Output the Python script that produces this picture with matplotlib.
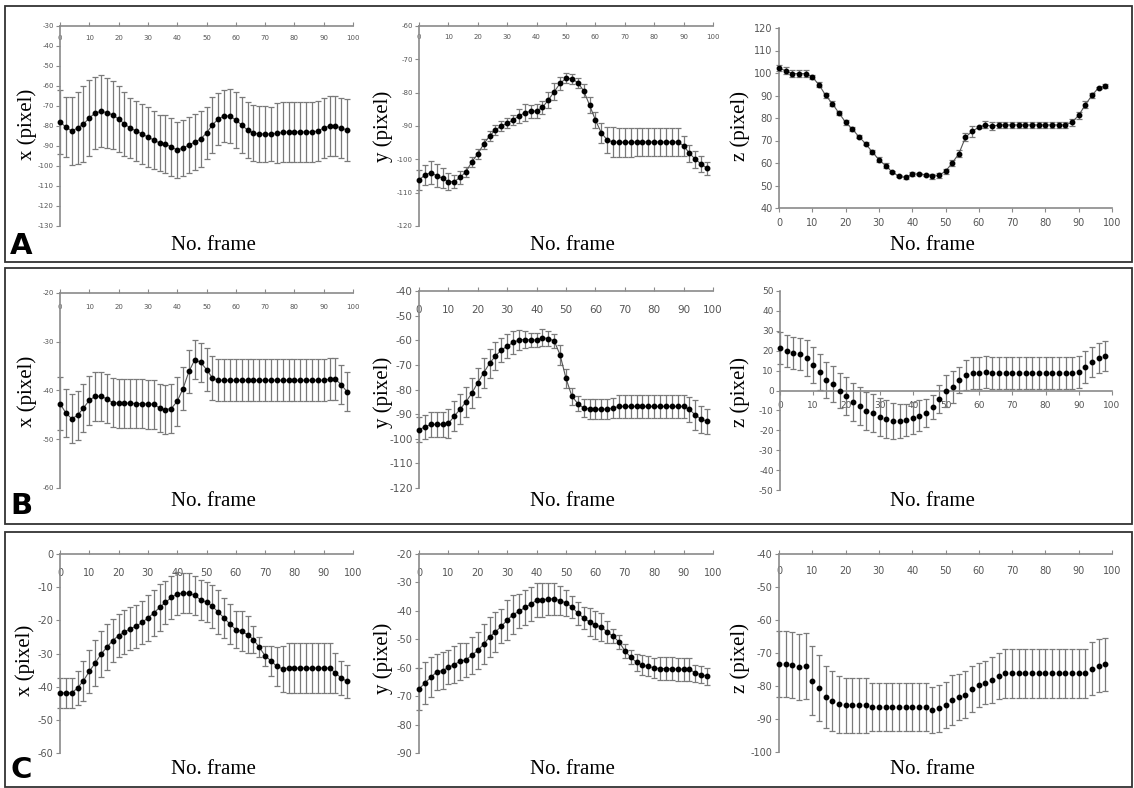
import numpy as np
import matplotlib.pyplot as plt
from matplotlib.patches import Rectangle

plt.rcParams['axes.unicode_minus'] = False

# frame numbers (every 2nd frame)
frames = list(range(0, 100, 2))

# ---- row A ----
a_x_mean = [-78, -80.5, -82.5, -81, -79, -76, -73.5, -72.7, -73.3, -74.5,
            -76.5, -79, -81, -82.5, -84, -85.5, -87, -88.5, -89, -90.5,
            -92, -91, -89.5, -88, -86.5, -83.5, -79.5, -76.5, -75, -75,
            -77, -79.5, -82, -83.5, -84, -84, -84, -83.7, -83.2, -83,
            -83, -83, -83, -83, -82.5, -81, -80, -80, -81, -82]
a_x_err = [16, 15, 17, 18, 19, 19, 18, 18, 17.5, 17,
           16.5, 16, 15, 15, 15, 15, 14.5, 14, 14.5, 14.5,
           14, 14, 14, 14, 14, 13, 14, 13, 13, 13.5,
           14, 14, 14, 14, 14, 14, 13.5, 15, 15, 15,
           15, 15, 15, 15, 15, 15, 15, 15, 15, 15.5]

a_y_mean = [-106.2, -104.7, -104, -104.9, -105.7, -106.7, -106.7, -105.4, -103.7, -100.7,
            -98.4, -95.4, -93, -91.2, -90, -89.2, -88.2, -87, -86, -85.6,
            -85.5, -84.4, -82.2, -79.7, -77.2, -75.7, -75.8, -77, -79.4, -83.7,
            -88.2, -92, -94.2, -94.8, -94.9, -94.9, -94.9, -94.8, -94.8, -94.8,
            -94.8, -94.8, -94.8, -94.8, -94.8, -95.9, -98.2, -100, -101.4, -102.7]
a_y_err = [3, 3, 3.5, 3.5, 3, 2.5, 2, 2, 1.5, 1.5,
           1.5, 1.5, 1.5, 1.5, 1.5, 1.5, 1.5, 2, 2.5, 2,
           2, 2, 2.5, 2.5, 2, 1.5, 1.5, 1.5, 2, 2.5,
           2.5, 3, 4, 4.5, 4.3, 4.3, 4.3, 4.3, 4.3, 4.3,
           4.3, 4.3, 4.3, 4.3, 4.3, 3, 2.5, 2.5, 2.5, 2]

a_z_mean = [102.2, 101, 99.7, 99.7, 99.7, 98.2, 94.8, 90.1, 86.4, 82.2,
            78.1, 75.1, 71.7, 68.6, 64.9, 61.5, 58.8, 56, 54.1, 53.6,
            55.1, 55.1, 54.8, 54.1, 54.5, 56.3, 60, 64.1, 71.4, 74.1,
            75.9, 77, 76.3, 76.9, 76.9, 76.9, 76.9, 76.9, 76.9, 76.9,
            76.9, 76.9, 76.9, 76.9, 78.1, 81.2, 85.9, 90.1, 93.5, 94.2]
a_z_err = [1.5, 1.5, 1.5, 1.5, 1.5, 1, 1, 1, 1, 1,
           1, 1, 0.8, 0.8, 1, 1.2, 1, 0.5, 0.5, 0.5,
           1, 0.5, 0.5, 1.2, 1.2, 1.2, 1.5, 1.5, 1.8, 2.5,
           0.5, 1.5, 1.8, 1.5, 1.5, 1.5, 1.5, 1.5, 1.5, 1.5,
           1.5, 1.5, 1.5, 1.5, 1.5, 1.5, 1.5, 1, 0.5, 1]

# ---- row B ----
b_x_mean = [-42.7, -44.6, -45.8, -45.1, -43.6, -42, -41.2, -41.2, -41.7, -42.5,
            -42.6, -42.6, -42.6, -42.7, -42.7, -42.8, -42.8, -43.6, -43.9, -43.7,
            -42.2, -39.6, -36.1, -33.7, -34.2, -35.7, -37.4, -37.9, -37.9, -37.9,
            -37.9, -37.9, -37.9, -37.9, -37.9, -37.9, -37.9, -37.9, -37.9, -37.9,
            -37.9, -37.9, -37.9, -37.9, -37.9, -37.9, -37.7, -37.7, -38.8, -40.3]
b_x_err = [5.5, 5, 5, 5, 5, 5, 5, 5, 5, 5,
           5, 5, 5, 5, 5, 5, 5, 5, 5, 5,
           5, 4.5, 4.5, 4, 4, 4.5, 4.5, 4.3, 4.3, 4.3,
           4.3, 4.3, 4.3, 4.3, 4.3, 4.3, 4.3, 4.3, 4.3, 4.3,
           4.3, 4.3, 4.3, 4.3, 4.3, 4.3, 4.3, 4.3, 4, 4]

b_y_mean = [-96.3, -95.2, -94.2, -94.2, -94.1, -93.8, -90.8, -88, -85, -81.4,
            -77.2, -73.2, -69.4, -66.4, -64, -62.4, -60.9, -59.9, -59.7, -59.9,
            -59.9, -59, -59.3, -60.3, -66, -75.5, -82.7, -85.7, -87.5, -87.9,
            -88, -88, -88, -87.5, -86.9, -86.9, -86.9, -86.9, -86.9, -86.9,
            -86.9, -86.9, -86.9, -86.9, -86.9, -86.9, -88.1, -90.4, -92, -92.9]
b_y_err = [5, 5, 5, 5, 5, 6, 6, 6, 6, 6,
           6, 6, 6, 5.5, 5, 5, 4.5, 4, 3.5, 3,
           3, 3.5, 3, 3, 4, 4, 3.5, 3, 3.5, 4,
           4, 4, 4, 4, 4.5, 4.5, 4.5, 4.5, 4.5, 4.5,
           4.5, 4.5, 4.5, 4.5, 4.5, 4.5, 5, 6, 5.5, 5]

b_z_mean = [21.2, 19.8, 19, 18.2, 16.5, 12.8, 9.5, 5.3, 3.1, 0,
            -2.8, -5.6, -7.8, -10.1, -11.5, -13.2, -14.3, -15.2, -15.3, -15,
            -14, -12.6, -11.1, -8.5, -4.4, -0.3, 1.6, 5.3, 7.8, 8.6,
            9, 9.1, 9, 9, 8.6, 8.6, 8.6, 8.6, 8.6, 8.6,
            8.6, 8.6, 8.6, 8.6, 8.6, 9.5, 12, 14.5, 16.2, 17.3]
b_z_err = [8, 8, 8, 8, 9, 9, 9, 9, 9, 9,
           9.5, 9.5, 9.5, 9.5, 9.5, 9.5, 9.5, 9, 8.5, 8,
           8, 8, 7, 6, 7, 8, 8, 6.5, 7.5, 8,
           8, 8, 8, 8, 8, 8, 8, 8, 8, 8,
           8, 8, 8, 8, 8, 8, 8, 7.5, 7.5, 7.5]

# ---- row C ----
c_x_mean = [-41.9, -41.9, -41.9, -40.4, -38.2, -35.4, -32.9, -30.2, -28.1, -26.1,
            -24.6, -23.5, -22.5, -21.8, -20.6, -19.3, -17.8, -16.1, -14.6, -13.1,
            -12, -11.8, -11.8, -12.5, -13.8, -14.5, -15.8, -17.5, -19.3, -21.1,
            -22.8, -23.3, -24.3, -25.8, -28.1, -30.7, -32.2, -33.9, -34.6, -34.4,
            -34.4, -34.4, -34.4, -34.4, -34.4, -34.4, -34.4, -35.9, -37.4, -38.4]
c_x_err = [4.5, 4.5, 4.5, 5, 6, 6.5, 7, 7, 7, 6.5,
           6.5, 6.5, 6.5, 6.5, 6.5, 7, 7, 7, 6.5, 6.5,
           6.5, 6, 6, 6, 6, 6, 6.5, 6.5, 6, 6,
           5.5, 6, 5.5, 4, 3, 3, 4.5, 6, 7, 7.5,
           7.5, 7.5, 7.5, 7.5, 7.5, 7.5, 7.5, 6, 5, 5]

c_y_mean = [-67.5, -65.4, -63.4, -61.5, -61, -59.9, -58.9, -57.7, -57.2, -55.6,
            -53.9, -51.7, -49.2, -47.4, -45.4, -43.3, -41.3, -40.2, -38.8, -37.6,
            -36.3, -36.1, -35.8, -35.8, -36.4, -37.2, -38.6, -40.8, -42.5, -43.9,
            -44.9, -45.7, -47.4, -48.9, -50.9, -54, -56.3, -58.1, -59.2, -59.5,
            -60.1, -60.3, -60.3, -60.4, -60.5, -60.5, -60.5, -61.9, -62.4, -63]
c_y_err = [7.5, 7.5, 7, 6.5, 6.5, 6, 6.5, 6.5, 6, 6.5,
           6.5, 7, 7, 7, 6, 7, 7, 6, 6, 6,
           6, 6, 5.5, 5.5, 5, 4.5, 4, 4, 4, 5,
           5, 5, 4, 2.5, 2.5, 2.5, 2.5, 3, 3.5, 3.5,
           3.5, 4, 4, 4, 4, 4, 4, 3, 3, 3]

c_z_mean = [-73.4, -73.4, -73.6, -74.1, -73.9, -78.4, -80.7, -83.3, -84.6, -85.6,
            -85.8, -85.8, -85.8, -85.8, -86.3, -86.3, -86.3, -86.3, -86.3, -86.3,
            -86.3, -86.3, -86.3, -87.3, -86.8, -85.8, -84.3, -83.3, -82.6, -81,
            -79.7, -79, -78.2, -76.9, -76.2, -76.2, -76.2, -76.2, -76.2, -76.2,
            -76.2, -76.2, -76.2, -76.2, -76.2, -76.2, -76.2, -74.7, -73.8, -73.4]
c_z_err = [10, 10, 10, 10, 10, 10.5, 10, 9.5, 9, 8.5,
           8.3, 8.3, 8.3, 8.3, 7.3, 7.3, 7.3, 7.3, 7.3, 7.3,
           7.3, 7.3, 7.3, 7, 7, 7, 7.5, 7, 7, 7,
           6.8, 6.5, 7, 7, 7.3, 7.3, 7.3, 7.3, 7.3, 7.3,
           7.3, 7.3, 7.3, 7.3, 7.3, 7.3, 7.3, 8, 8, 8]

W, H = 1134, 788
fig = plt.figure(figsize=(W / 100, H / 100), dpi=100)
serif = 'Liberation Serif'
axis_grey = '#8a8a8a'


def px_axes(x0, y0, x1, y1):
    return fig.add_axes([x0 / W, 1 - y1 / H, (x1 - x0) / W, (y1 - y0) / H])


# box(px), ylim, where x axis crosses, mean, err, tick fontsize, x label pad, draw line, ylabel,
# ylabel pos(px), xlabel pos(px)
panels = [
    ((60, 26, 353, 226), (-130, -30), 'top', a_x_mean, a_x_err, 5, 6.6, True, 'x (pixel)', (27, 124), (213, 245)),
    ((419, 26, 713, 226), (-120, -60), 'top', a_y_mean, a_y_err, 5, 6.0, True, 'y (pixel)', (383, 126), (572, 245)),
    ((779, 28, 1112, 208), (40, 120), 'bottom', a_z_mean, a_z_err, 7, 4.5, True, 'z (pixel)', (740, 126), (932, 245)),
    ((60, 293, 353, 488), (-60, -20), 'top', b_x_mean, b_x_err, 5, 8.0, True, 'x (pixel)', (27, 391), (213, 502)),
    ((419, 291, 713, 488), (-120, -40), 'top', b_y_mean, b_y_err, 7.5, 10.0, True, 'y (pixel)', (383, 392), (572, 502)),
    ((780, 291, 1112, 490), (-50, 50), 'zero', b_z_mean, b_z_err, 6.5, 4.5, False, 'z (pixel)', (740, 392), (932, 502)),
    ((60, 554, 353, 753), (-60, 0), 'top', c_x_mean, c_x_err, 7, 10.3, True, 'x (pixel)', (25, 660), (213, 770)),
    ((419, 554, 713, 753), (-90, -20), 'top', c_y_mean, c_y_err, 7, 10.3, True, 'y (pixel)', (383, 658), (572, 770)),
    ((779, 554, 1112, 752), (-100, -40), 'top', c_z_mean, c_z_err, 7, 8.4, False, 'z (pixel)', (740, 658), (932, 770)),
]

for box, ylim, cross, mean, err, fs, pad, line, ylab, ylpos, xlpos in panels:
    ax = px_axes(*box)
    ax.set_xlim(0, 100)
    ax.set_ylim(*ylim)
    ax.errorbar(frames, mean, yerr=err, fmt='none', ecolor='#7a7a7a',
                elinewidth=0.9, capsize=2, capthick=0.9, clip_on=False)
    if line:
        ax.plot(frames, mean, color='#555555', lw=0.8, clip_on=False)
    ax.plot(frames, mean, 'o', color='black', ms=3.2, clip_on=False, zorder=5)

    ax.set_xticks(range(0, 101, 10))
    ax.set_yticks(np.arange(ylim[0], ylim[1] + 1, 10))
    for s in ['top', 'right']:
        ax.spines[s].set_visible(False)
    for s in ['left', 'bottom']:
        ax.spines[s].set_color(axis_grey)
        ax.spines[s].set_linewidth(1.2)

    if cross == 'top':
        ax.spines['bottom'].set_position(('data', ylim[1]))
        xdir = 'in'
    elif cross == 'zero':
        ax.spines['bottom'].set_position(('data', 0))
        xdir = 'out'
    else:
        xdir = 'out'
    ax.tick_params(axis='x', direction=xdir, length=3, width=0.8, color=axis_grey,
                   labelsize=fs, labelcolor='#555555', pad=pad)
    ax.tick_params(axis='y', direction='out', length=3, width=0.8, color=axis_grey,
                   labelsize=fs, labelcolor='#555555', pad=1.5)
    ax.patch.set_alpha(0)

    fig.text(ylpos[0] / W, 1 - ylpos[1] / H, ylab, rotation=90, ha='center', va='center',
             fontsize=15, family=serif)
    fig.text(xlpos[0] / W, 1 - xlpos[1] / H, 'No. frame', ha='center', va='center',
             fontsize=15, family=serif)

# panel letters
for letter, yb in [('A', 254), ('B', 514), ('C', 778)]:
    fig.text(10 / W, 1 - yb / H, letter, fontsize=21, weight='bold', ha='left', va='baseline',
             family=['Liberation Sans Narrow', 'DejaVu Sans'])

# row frames
for top, bottom in [(6, 262), (268, 524), (532, 787)]:
    fig.add_artist(Rectangle((5 / W, 1 - bottom / H), (1132 - 5) / W, (bottom - top) / H,
                             transform=fig.transFigure, fill=False, ec='#333333', lw=1.3))

fig.savefig('out.png', dpi=100)
